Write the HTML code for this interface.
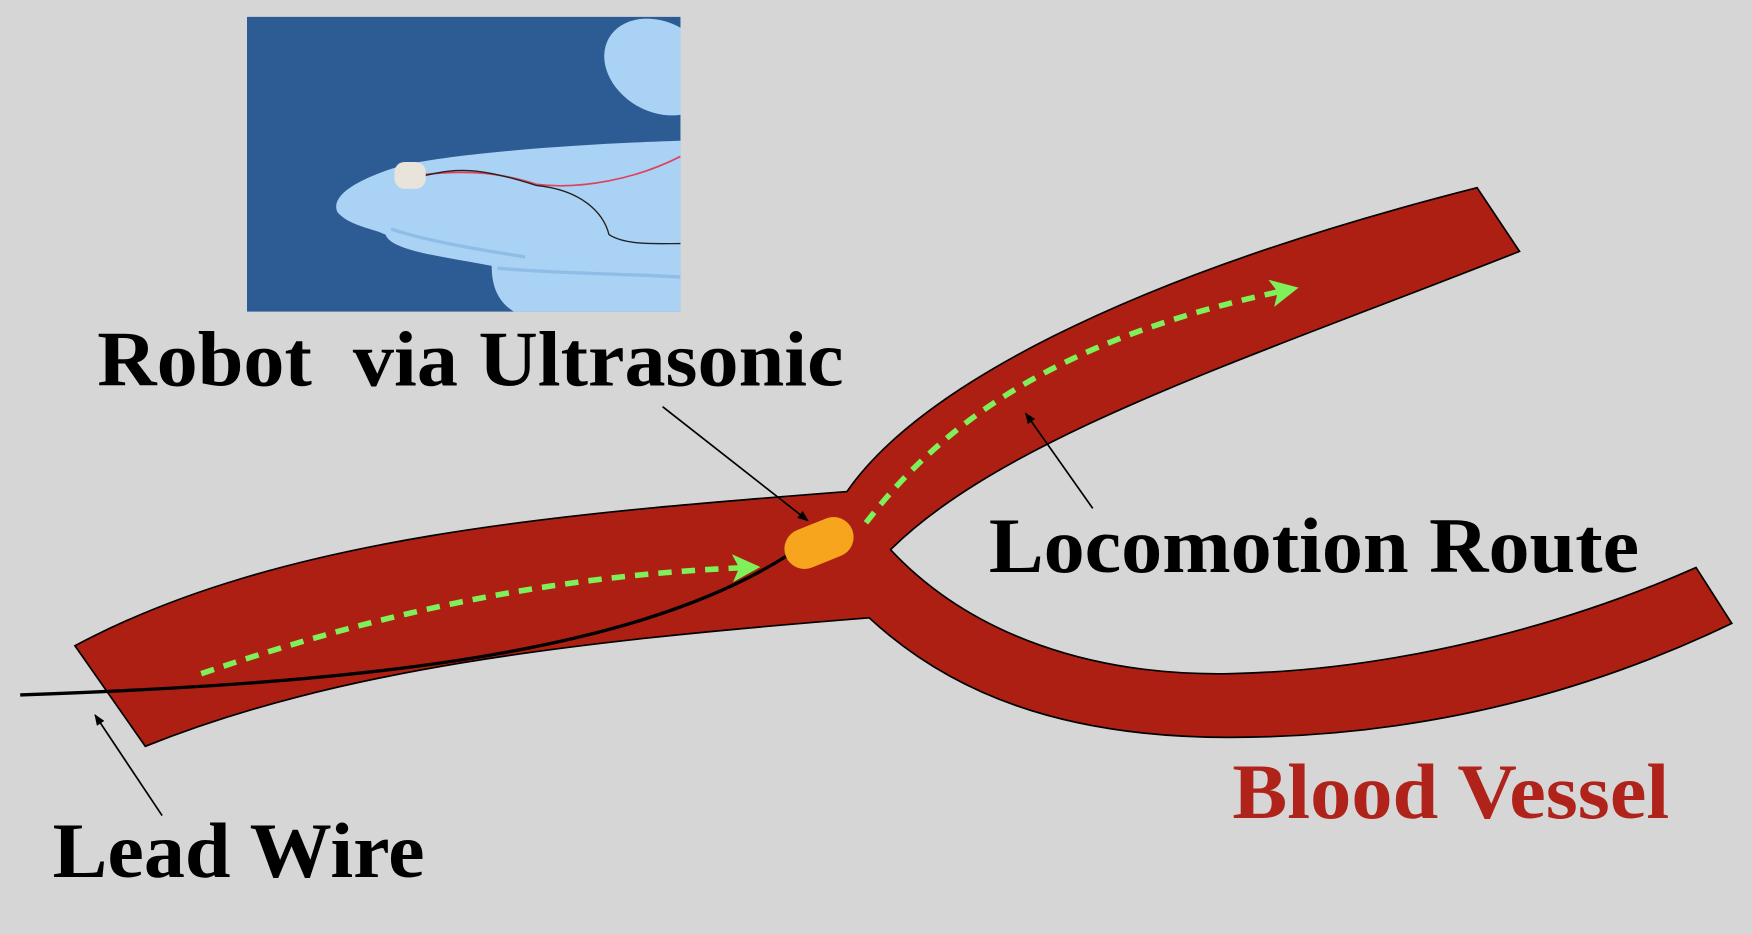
<!DOCTYPE html>
<html><head><meta charset="utf-8"><style>
html,body{margin:0;padding:0;background:#d6d6d6;}
svg{display:block;}
text{font-family:"Liberation Serif",serif;font-weight:bold;}
</style></head><body>
<svg width="1752" height="934" viewBox="0 0 1568 836" xmlns="http://www.w3.org/2000/svg">
<defs>
<clipPath id="ph"><rect x="221" y="15" width="388" height="264"/></clipPath>
<marker id="ag" markerWidth="5" markerHeight="5" refX="2.5" refY="2.5" orient="auto" markerUnits="strokeWidth"><path d="M0,0 L5,2.5 L0,5 L1.2,2.5 Z" fill="#7ef05a"/></marker>
<marker id="ab" markerWidth="10" markerHeight="8" refX="9" refY="4" orient="auto" markerUnits="userSpaceOnUse"><path d="M0,0 L10,4 L0,8 Z" fill="#000"/></marker>
</defs>
<rect width="1568" height="836" fill="#d6d6d6"/>
<g clip-path="url(#ph)">
<rect x="221" y="15" width="388" height="264" fill="#2d5b94"/>
<ellipse cx="590" cy="60" rx="52" ry="40" transform="rotate(30 590 60)" fill="#a9d2f5"/>
<path d="M609,126 C540,128 420,135 360,148 C320,160 295,175 302,190 C312,202 335,205 345,210 C350,225 400,230 440,238 C440,255 445,270 460,279 L609,279 Z" fill="#a9d2f5"/>
<path d="M350,205 C380,215 420,222 470,230" stroke="#8fbde6" stroke-width="3" fill="none"/>
<path d="M445,240 C500,245 560,245 609,248" stroke="#8fbde6" stroke-width="3" fill="none"/>
<rect x="353" y="145" width="28" height="24" rx="9" fill="#e8e4dc"/>
<path d="M381,156 C420,152 450,155 480,165 C520,170 570,160 609,140" stroke="#e0405a" stroke-width="1.5" fill="none"/>
<path d="M381,157 C410,150 430,150 480,166 C520,170 540,190 545,210 C560,220 590,218 609,218" stroke="#222" stroke-width="1.2" fill="none"/>
</g>
<path d="M67,578 C250,480 500,460 758,440 C820,350 1000,250 1322,168 L1360,225 C1120,320 900,390 797,492 C870,570 980,605 1100,603 C1250,600 1400,560 1518,508 L1550,558 C1400,630 1250,660 1100,660 C950,660 850,620 778,553 C500,575 300,600 130,668 Z" fill="#ad1f12" stroke="#000" stroke-width="1.5"/>
<path d="M18,622 C300,612 560,590 705,497" stroke="#000" stroke-width="3" fill="none"/>
<rect x="701" y="468" width="64" height="36" rx="18" fill="#f6a51d" transform="rotate(-22 733 486)"/>
<path d="M180,603 C350,545 500,515 668,508" stroke="#7ef05a" stroke-width="5" stroke-dasharray="12 9" fill="none" marker-end="url(#ag)"/>
<path d="M775,468 C850,370 960,300 1150,260" stroke="#7ef05a" stroke-width="5" stroke-dasharray="12 9" fill="none" marker-end="url(#ag)"/>
<line x1="593" y1="364" x2="723" y2="466" stroke="#000" stroke-width="1.5" marker-end="url(#ab)"/>
<line x1="978" y1="455" x2="918" y2="370" stroke="#000" stroke-width="1.5" marker-end="url(#ab)"/>
<line x1="145" y1="730" x2="85" y2="640" stroke="#000" stroke-width="1.5" marker-end="url(#ab)"/>
<text x="87" y="345" font-size="70" textLength="668" lengthAdjust="spacingAndGlyphs" fill="#000" xml:space="preserve">Robot  via Ultrasonic</text>
<text x="885" y="512" font-size="70" textLength="582" lengthAdjust="spacingAndGlyphs" fill="#000">Locomotion Route</text>
<text x="47" y="785" font-size="70" textLength="333" lengthAdjust="spacingAndGlyphs" fill="#000">Lead Wire</text>
<text x="1103" y="732" font-size="70" textLength="391" lengthAdjust="spacingAndGlyphs" fill="#b0231a">Blood Vessel</text>
</svg>
</body></html>
